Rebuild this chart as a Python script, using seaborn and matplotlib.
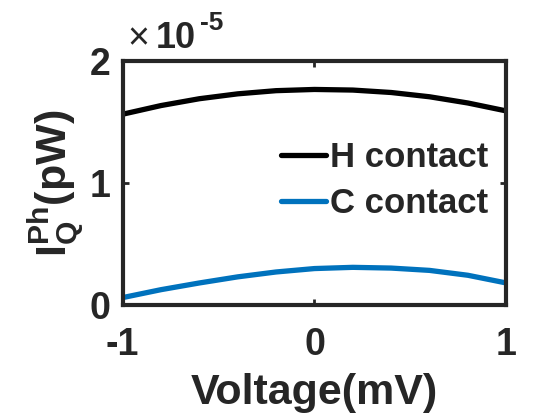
import numpy as np
import pandas as pd
import seaborn as sns
import matplotlib.pyplot as plt

# values (units of 1e-5 pW)
voltage = [-1.0, -0.8, -0.6, -0.4, -0.2, 0.0, 0.2, 0.4, 0.6, 0.8, 1.0]
h_contact = [1.563, 1.634, 1.690, 1.730, 1.756, 1.766, 1.761, 1.741, 1.706, 1.655, 1.590]
c_contact = [0.060, 0.125, 0.180, 0.230, 0.270, 0.298, 0.308, 0.302, 0.283, 0.243, 0.180]
series_names = ["H contact", "C contact"]
series_colors = ["#000000", "#0072BD"]
xtick_labels = ["-1", "0", "1"]
ytick_labels = ["0", "1", "2"]

sns.set_style("ticks")
plt.rcParams['font.family'] = ['Liberation Sans', 'DejaVu Sans']
plt.rcParams['font.weight'] = 'bold'
plt.rcParams['mathtext.fontset'] = 'custom'
plt.rcParams['mathtext.rm'] = 'Liberation Sans:bold'
plt.rcParams['mathtext.bf'] = 'Liberation Sans:bold'
plt.rcParams['mathtext.it'] = 'Liberation Sans:bold'

df = pd.DataFrame({
    "Voltage": voltage * 2,
    "I": np.array(h_contact + c_contact) * 1e-5,
    "series": [series_names[0]] * len(voltage) + [series_names[1]] * len(voltage),
})

fig = plt.figure(figsize=(5.6, 4.2), dpi=100)
ax = fig.add_axes([0.219, 0.274, 0.685, 0.581])
sns.lineplot(data=df, x="Voltage", y="I", hue="series", palette=series_colors,
             linewidth=3.8, ax=ax)

ax.set_xlim(-1, 1)
ax.set_ylim(0, 2e-5)
ax.set_xticks([-1, 0, 1])
ax.set_yticks([0, 1e-5, 2e-5])
ax.set_xticklabels(xtick_labels)
ax.set_yticklabels(ytick_labels)

# exponent note in the MATLAB style
tc = '#262626'
fig.text(138 / 560, 1 - 39 / 420, "×", ha='center', va='center', fontsize=27,
         fontweight='normal', color=tc)
fig.text(156 / 560, 1 - 48 / 420, "10", ha='left', va='baseline', fontsize=26,
         fontweight='bold', color=tc)
fig.text(200 / 560, 1 - 30 / 420, "-5", ha='left', va='baseline', fontsize=19,
         fontweight='bold', color=tc)

for side in ['top', 'right', 'bottom', 'left']:
    ax.spines[side].set_visible(True)
    ax.spines[side].set_linewidth(3)
    ax.spines[side].set_color(tc)
ax.tick_params(direction='in', length=4, width=2, top=True, right=True,
               labelsize=27, colors=tc)
ax.tick_params(axis='x', pad=16)
ax.tick_params(axis='y', pad=9)

ax.set_xlabel("Voltage(mV)", fontsize=31, fontweight='bold', color=tc, labelpad=7)
ax.set_ylabel(r"$\mathbf{I_Q^{Ph}}$(pW)", fontsize=31, fontweight='bold', color=tc,
              labelpad=2)

leg = ax.legend(loc='center right', bbox_to_anchor=(0.953, 0.51), frameon=False,
                fontsize=25, handlelength=1.3, handletextpad=0.1,
                labelspacing=0.37, borderpad=0, borderaxespad=0)
for line in leg.get_lines():
    line.set_linewidth(3.8)

plt.savefig("out.png", dpi=100)
plt.close()
